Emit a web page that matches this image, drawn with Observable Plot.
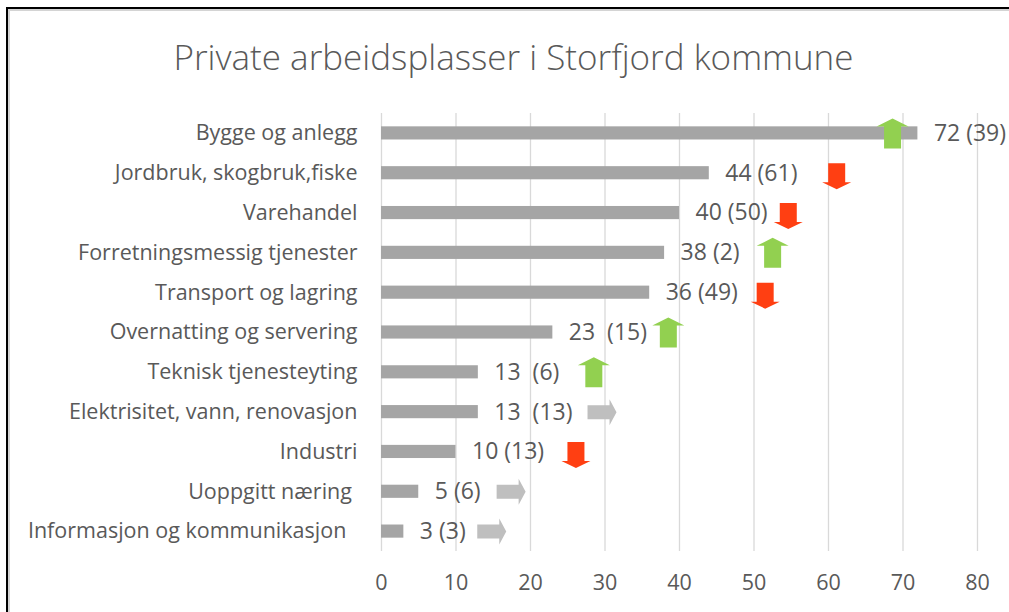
<!DOCTYPE html>
<html>
<head>
<meta charset="utf-8">
<script src="https://cdn.jsdelivr.net/npm/d3@7"></script>
<script src="https://cdn.jsdelivr.net/npm/@observablehq/plot@0.6"></script>
<style>
  html, body { margin: 0; padding: 0; background: #fff; }
  #wrap { position: relative; width: 1009px; height: 612px; overflow: hidden; background: #fff; }
  #frame { position: absolute; left: 6px; top: 7px; width: 1100px; height: 700px;
           border-top: 2px solid #000; border-left: 2px solid #000;
           box-shadow: inset 2px 2px 0 #d4d4d4; pointer-events: none; z-index: 2; }
  #title { box-sizing: border-box; height: 100px; padding-top: 39px; text-align: center;
           width: 1027px; font-family: "Open Sans", sans-serif; font-weight: 300;
           font-size: 35px; line-height: 35px; color: #595959; white-space: nowrap; }
  #chart svg text { white-space: pre; }
</style>
</head>
<body>
<div id="wrap">
  <div id="frame"></div>
  <div id="title">Private arbeidsplasser i Storfjord kommune</div>
  <div id="chart"></div>
</div>
<script>
const categories = [
  "Bygge og anlegg",
  "Jordbruk, skogbruk,fiske",
  "Varehandel",
  "Forretningsmessig tjenester",
  "Transport og lagring",
  "Overnatting og servering",
  "Teknisk tjenesteyting",
  "Elektrisitet, vann, renovasjon",
  "Industri",
  "Uoppgitt næring\u00a0",
  "Informasjon og kommunikasjon\u00a0\u00a0"
];
const values   = [72, 44, 40, 38, 36, 23, 13, 13, 10, 5, 3];
const previous = [39, 61, 50, 2, 49, 15, 6, 13, 13, 6, 3];
const valueLabels = ["72 (39)", "44 (61)", "40 (50)", "38 (2)", "36 (49)", "23  (15)",
                     "13  (6)", "13  (13)", "10 (13)", "5 (6)", "3 (3)"];
const trend   = ["up", "down", "down", "up", "down", "up", "up", "same", "down", "same", "same"];
const arrowAt = [68.6, 61.1, 54.6, 52.5, 51.5, 38.5, 28.5, 29.6, 26.1, 17.4, 14.8];
const xTicks  = [0, 10, 20, 30, 40, 50, 60, 70, 80];

const rows = categories.map((c, i) => ({
  category: c, value: values[i], previous: previous[i],
  label: valueLabels[i], trend: trend[i], arrowAt: arrowAt[i]
}));

// block-arrow symbols (drawn in px, scaled so r = 15 gives the nominal size)
function poly(ctx, pts, s) {
  ctx.moveTo(pts[0][0] * s, pts[0][1] * s);
  for (let k = 1; k < pts.length; k++) ctx.lineTo(pts[k][0] * s, pts[k][1] * s);
  ctx.closePath();
}
const scaleOf = size => Math.sqrt(size / Math.PI) / 15;
const upArrow = { draw(ctx, size) { poly(ctx, [[0,-15],[16,-7],[8.5,-7],[8.5,15],[-8.5,15],[-8.5,-7],[-16,-7]], scaleOf(size)); } };
const downArrow = { draw(ctx, size) { poly(ctx, [[0,16],[14.5,9],[8.5,9],[8.5,-10],[-8.5,-10],[-8.5,9],[-14.5,9]], scaleOf(size)); } };
const rightArrow = { draw(ctx, size) { poly(ctx, [[14.5,0],[7.5,-13],[7.5,-7],[-14.5,-7],[-14.5,7],[7.5,7],[7.5,13]], scaleOf(size)); } };

const plot = Plot.plot({
  width: 1009,
  height: 512,
  marginLeft: 381,
  marginRight: 32,
  marginTop: 13,
  marginBottom: 61,
  style: { background: "transparent", fontFamily: "'Open Sans', sans-serif", fontSize: "21.5px", color: "#595959" },
  x: { domain: [0, 80], ticks: xTicks, tickSize: 0, tickPadding: 23, label: null, tickFormat: d => String(d) },
  y: { domain: categories, paddingInner: 0.67, paddingOuter: 0.335, round: false, tickSize: 0, tickPadding: 24, label: null },
  marks: [
    Plot.ruleX(xTicks, { stroke: "#d9d9d9", strokeWidth: 1.3 }),
    Plot.barX(rows, { y: "category", x: "value", fill: "#a5a5a5" }),
    Plot.text(rows, { y: "category", x: "value", text: "label", textAnchor: "start", dx: 16,
                      fill: "#595959", fontSize: 23 }),
    Plot.dot(rows.filter(d => d.trend === "up"), { y: "category", x: "arrowAt", r: 15, symbol: upArrow, fill: "#92d050", stroke: "none" }),
    Plot.dot(rows.filter(d => d.trend === "down"), { y: "category", x: "arrowAt", r: 15, symbol: downArrow, fill: "#ff3f12", stroke: "none" }),
    Plot.dot(rows.filter(d => d.trend === "same"), { y: "category", x: "arrowAt", r: 15, symbol: rightArrow, fill: "#bfbfbf", stroke: "none" })
  ]
});
document.getElementById("chart").appendChild(plot);
</script>
</body>
</html>
